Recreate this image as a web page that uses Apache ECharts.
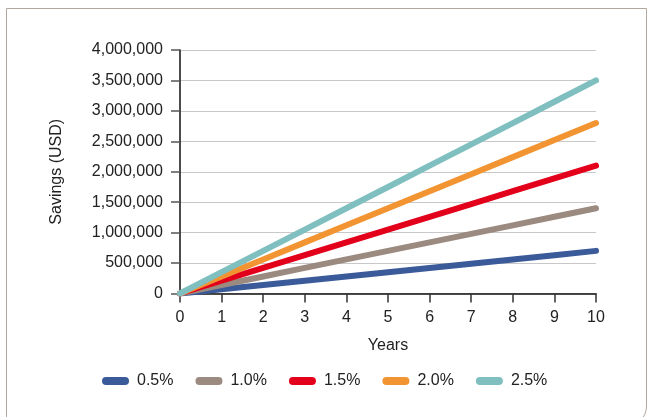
<!DOCTYPE html>
<html><head><meta charset="utf-8">
<script src="https://cdn.jsdelivr.net/npm/echarts@6/dist/echarts.min.js"></script>
<style>
html,body{margin:0;padding:0;background:#fff;width:648px;height:417px;overflow:hidden;}
#frame{position:absolute;left:6px;top:8px;width:641px;height:420px;border:1.5px solid #b3a89e;border-bottom-right-radius:22px;box-sizing:border-box;}
#c{position:absolute;left:0;top:0;width:648px;height:417px;}
</style></head>
<body>
<div id="frame"></div>
<div id="c"></div>
<script>
const years = ['0','1','2','3','4','5','6','7','8','9','10'];
const yTicks = [0,500000,1000000,1500000,2000000,2500000,3000000,3500000,4000000];
const seriesNames = ['0.5%','1.0%','1.5%','2.0%','2.5%'];
const rate05 = [0,70000,140000,210000,280000,350000,420000,490000,560000,630000,700000];
const rate10 = [0,140000,280000,420000,560000,700000,840000,980000,1120000,1260000,1400000];
const rate15 = [0,210000,420000,630000,840000,1050000,1260000,1470000,1680000,1890000,2100000];
const rate20 = [0,280000,560000,840000,1120000,1400000,1680000,1960000,2240000,2520000,2800000];
const rate25 = [0,350000,700000,1050000,1400000,1750000,2100000,2450000,2800000,3150000,3500000];
const colors = ['#3b5a9a','#9b8a7f','#e2001b','#f29432','#7fbfbf'];
const allData = [rate05,rate10,rate15,rate20,rate25];

const font = 'Liberation Sans, Arial, Helvetica, sans-serif';
const fs = 16;
const chart = echarts.init(document.getElementById('c'));
chart.setOption({
  animation:false,
  color:colors,
  grid:{left:180,right:52,top:50,bottom:123.5,containLabel:false},
  legend:{
    left:97, top:368,
    itemWidth:27, itemHeight:8, itemGap:22,
    icon:'path://M4,0 L23,0 A4,4 0 0 1 23,8 L4,8 A4,4 0 0 1 4,0 Z',
    textStyle:{fontFamily:font,fontSize:fs,color:'#222',padding:[0,0,0,3]},
    data:seriesNames
  },
  xAxis:{
    type:'category', boundaryGap:false, data:years,
    name:'Years', nameLocation:'middle', nameGap:44,
    nameTextStyle:{fontFamily:font,fontSize:fs,color:'#222'},
    axisLine:{lineStyle:{color:'#111',width:1.5}},
    axisTick:{show:true,length:9,alignWithLabel:true,lineStyle:{color:'#333',width:1.5}},
    axisLabel:{fontFamily:font,fontSize:fs,color:'#222',margin:16},
    splitLine:{show:false}
  },
  yAxis:{
    type:'value', min:0, max:4000000, interval:500000,
    name:'Savings (USD)', nameLocation:'middle', nameGap:115, nameRotate:90,
    nameTextStyle:{fontFamily:font,fontSize:fs,color:'#222'},
    axisLine:{show:true,lineStyle:{color:'#111',width:1.5}},
    axisTick:{show:true,length:9,lineStyle:{color:'#555',width:1.5}},
    axisLabel:{fontFamily:font,fontSize:fs,color:'#222',margin:17,
      formatter:v=>yTicks.includes(v)?v.toLocaleString('en-US'):''},
    splitLine:{show:true,lineStyle:{color:'#c8c8c8',width:1.2}}
  },
  series:seriesNames.map((n,i)=>({
    name:n, type:'line', data:allData[i], showSymbol:false, symbol:'none',
    lineStyle:{width:6,color:colors[i],cap:'round',join:'round'},
    itemStyle:{color:colors[i]}
  }))
});
</script>
</body></html>
